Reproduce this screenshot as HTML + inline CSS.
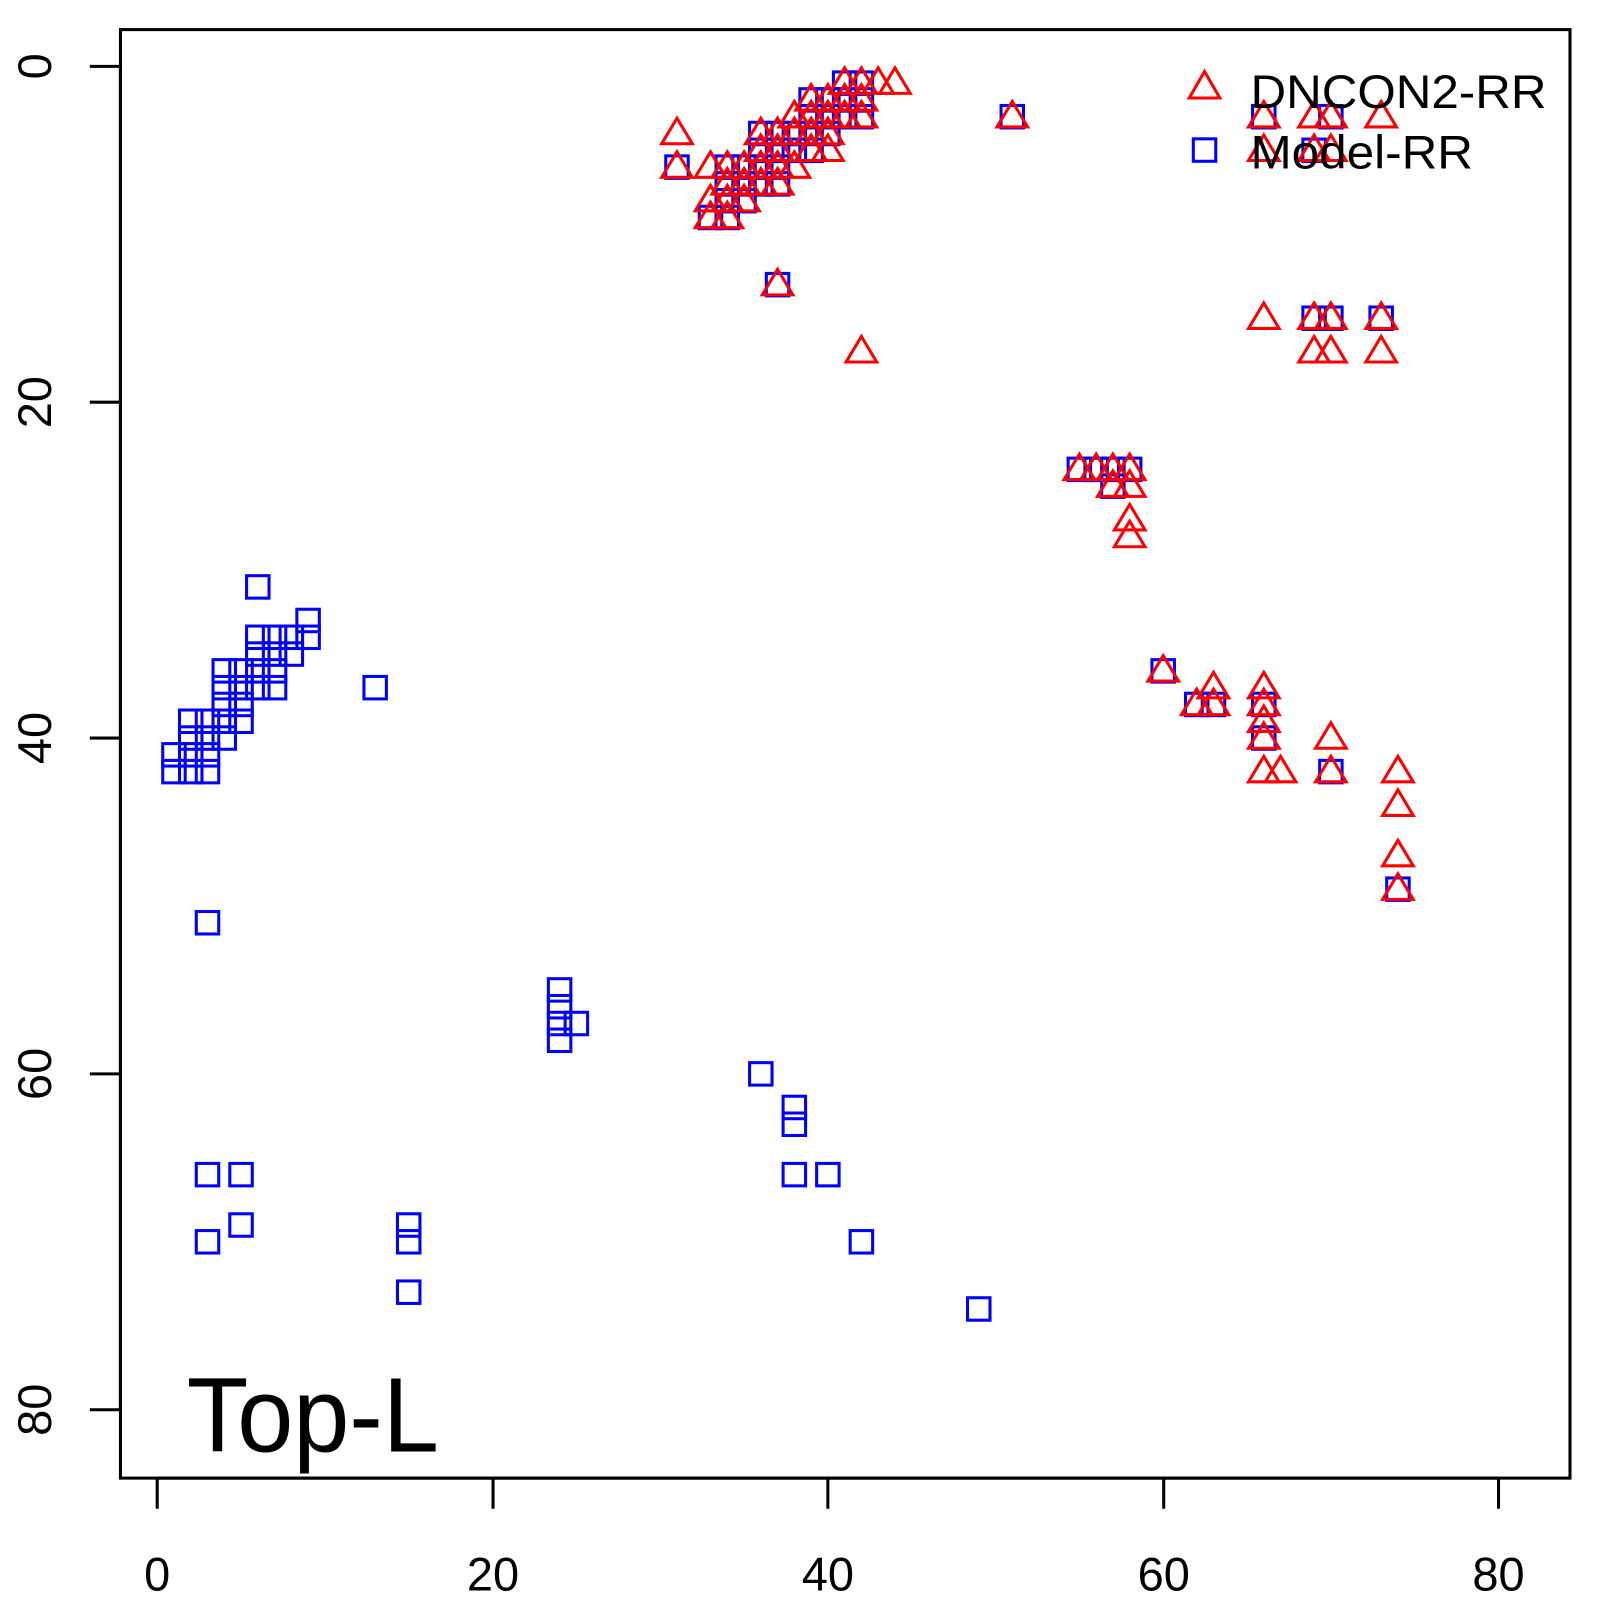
<!DOCTYPE html>
<html><head><meta charset="utf-8"><style>html,body{margin:0;padding:0;background:#fff}svg{display:block}</style></head>
<body>
<svg id="s" width="1600" height="1600" xmlns="http://www.w3.org/2000/svg" font-family="Liberation Sans, sans-serif">
<g transform="scale(1.0208)">
<rect x="118" y="29" width="1420" height="1419" fill="none" stroke="#000" stroke-width="3"/>
<g stroke="#000" stroke-width="3">
<line x1="154" y1="1448" x2="1468" y2="1448"/>
<line x1="154" y1="1448" x2="154" y2="1478"/><line x1="483" y1="1448" x2="483" y2="1478"/><line x1="811" y1="1448" x2="811" y2="1478"/><line x1="1140" y1="1448" x2="1140" y2="1478"/><line x1="1468" y1="1448" x2="1468" y2="1478"/>
<line x1="118" y1="65" x2="118" y2="1381"/>
<line x1="88" y1="65" x2="118" y2="65"/><line x1="88" y1="394" x2="118" y2="394"/><line x1="88" y1="723" x2="118" y2="723"/><line x1="88" y1="1052" x2="118" y2="1052"/><line x1="88" y1="1381" x2="118" y2="1381"/>
</g>
<g font-size="46" text-anchor="middle" fill="#000">
<text x="154" y="1558">0</text><text x="483" y="1558">20</text><text x="811" y="1558">40</text><text x="1140" y="1558">60</text><text x="1468" y="1558">80</text>
<text transform="translate(50,65) rotate(-90)">0</text>
<text transform="translate(50,394) rotate(-90)">20</text>
<text transform="translate(50,723) rotate(-90)">40</text>
<text transform="translate(50,1052) rotate(-90)">60</text>
<text transform="translate(50,1381) rotate(-90)">80</text>
</g>
<g id="pts"></g>
<polygon points="1180,70 1195,96 1165,96" fill="none" stroke="#f00" stroke-width="3"/>
<rect x="1169" y="136" width="22" height="22" fill="none" stroke="#00f" stroke-width="3"/>
<text x="1225" y="106" font-size="46" textLength="290" lengthAdjust="spacingAndGlyphs">DNCON2-RR</text>
<text x="1225" y="165" font-size="46" textLength="218" lengthAdjust="spacingAndGlyphs">Model-RR</text>
<text x="183" y="1422" font-size="104" textLength="247" lengthAdjust="spacingAndGlyphs">Top-L</text>
</g>
</svg>
<script>
var B=[[6,31],[9,33],[9,34],[8,34],[7,34],[6,34],[6,35],[7,35],[8,35],[4,36],[5,36],[6,36],[7,36],[4,37],[5,37],[6,37],[7,37],[4,38],[5,38],[4,39],[5,39],[2,39],[3,39],[2,40],[3,40],[4,40],[1,41],[2,41],[3,41],[1,42],[2,42],[3,42],[13,37],[3,51],[24,55],[24,56],[24,57],[25,57],[24,58],[36,60],[38,62],[38,63],[3,66],[5,66],[38,66],[40,66],[5,69],[3,70],[15,69],[15,70],[42,70],[15,73],[49,74],
[31,6],[33,9],[34,9],[34,6],[34,7],[34,8],[35,6],[35,7],[35,8],[36,4],[36,5],[36,6],[36,7],[37,4],[37,5],[37,6],[37,7],[38,4],[38,5],[39,2],[39,3],[39,4],[39,5],[40,2],[40,3],[40,4],[41,1],[41,2],[41,3],[42,1],[42,2],[42,3],[37,13],[51,3],[66,3],[69,15],[70,15],[73,15],[70,3],[69,5],[55,24],[56,24],[57,24],[58,24],[57,25],[60,36],[62,38],[63,38],[66,38],[66,40],[70,42],[74,49]];
var R=[[31,4],[31,6],[33,6],[33,8],[33,9],[34,6],[34,7],[34,8],[34,9],[35,6],[35,7],[35,8],[36,4],[36,5],[36,6],[36,7],[37,4],[37,5],[37,6],[37,7],[38,3],[38,4],[38,6],[39,2],[39,3],[39,4],[39,5],[40,2],[40,3],[40,4],[40,5],[41,1],[41,2],[41,3],[42,1],[42,2],[42,3],[43,1],[44,1],[37,13],[42,17],[51,3],[66,3],[66,5],[66,15],[69,3],[69,5],[69,15],[69,17],[70,3],[70,5],[70,15],[70,17],[73,3],[73,15],[73,17],[55,24],[56,24],[57,24],[58,24],[57,25],[58,25],[58,27],[58,28],[60,36],[62,38],[63,37],[63,38],[66,37],[66,38],[66,39],[66,40],[66,42],[67,42],[70,40],[70,42],[74,42],[74,44],[74,47],[74,49]];
var h='';
function X(v){return 154+v*16.425}function Y(v){return 65+v*16.45}
B.forEach(function(p){var x=X(p[0]),y=Y(p[1]);h+='<rect x="'+(x-11)+'" y="'+(y-11)+'" width="22" height="22" fill="none" stroke="#00f" stroke-width="3"/>';});
R.forEach(function(p){var x=X(p[0]),y=Y(p[1]);h+='<polygon points="'+x+','+(y-15)+' '+(x+15)+','+(y+10)+' '+(x-15)+','+(y+10)+'" fill="none" stroke="#f00" stroke-width="3"/>';});
document.getElementById('pts').innerHTML=h;
</script>
</body></html>
